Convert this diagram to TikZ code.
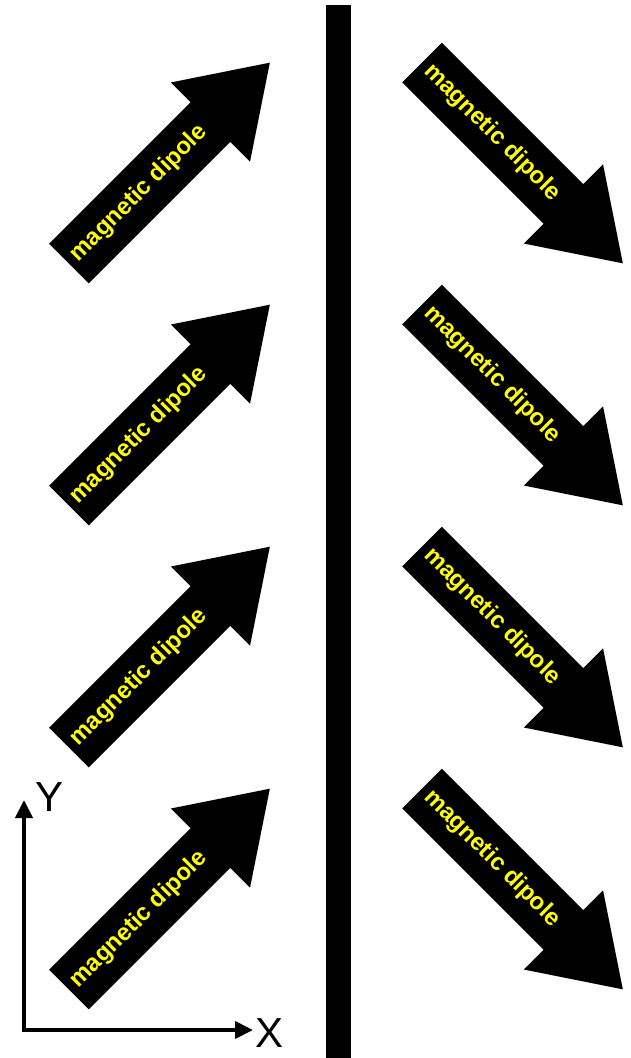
\documentclass[tikz,border=0pt]{standalone}
\usepackage{fontspec}
\setmainfont{Liberation Sans}
\usepackage{xcolor}
\usepackage{tikz}
\usetikzlibrary{arrows.meta}
\definecolor{DipoleYellow}{HTML}{FFFF00}
\definecolor{Ink}{HTML}{000000}

\begin{document}
\begin{tikzpicture}[x=1pt,y=-1pt,
  dipolelabel/.style={text=DipoleYellow,font=\bfseries\fontsize{24}{28}\selectfont,inner sep=0pt,transform shape},
  axisline/.style={draw=Ink,line width=4pt,-{Triangle[length=18pt,width=17pt]}},
  axislabel/.style={font=\fontsize{42}{48}\selectfont,inner sep=0pt},
  dipole/.pic={
    \fill[Ink] (0,-28) -- (200,-28) -- (200,-56) -- (284,0) -- (200,56) -- (200,28) -- (0,28) -- cycle;
    \node[dipolelabel] (-label) at (99,0) {magnetic dipole};
  }
]
\useasboundingbox (0,0) rectangle (631,1058);

% wall
\fill[Ink] (325.5,5) rectangle (350.5,1058);

% left side, pointing up-right
\pic[rotate=45] (l1) at (69,263.5) {dipole};
\pic[rotate=45] (l2) at (69,505.5) {dipole};
\pic[rotate=45] (l3) at (69,747.5) {dipole};
\pic[rotate=45] (l4) at (69,989.5) {dipole};

% right side, pointing down-right
\pic[rotate=-45] (r1) at (422,62.5) {dipole};
\pic[rotate=-45] (r2) at (422,304.5) {dipole};
\pic[rotate=-45] (r3) at (422,546.5) {dipole};
\pic[rotate=-45] (r4) at (422,788.5) {dipole};

% axes
\coordinate (origin) at (24,1030);
\coordinate (yend) at (24,800);
\coordinate (xend) at (253,1030);
\node[axislabel] (ylab) at (49.5,797) {Y};
\node[axislabel] (xlab) at (270,1033) {X};
\draw[axisline] ([xshift=-2pt]origin) -- (xend);
\draw[axisline] ([yshift=-2pt]origin) -- (yend);
\end{tikzpicture}
\end{document}
